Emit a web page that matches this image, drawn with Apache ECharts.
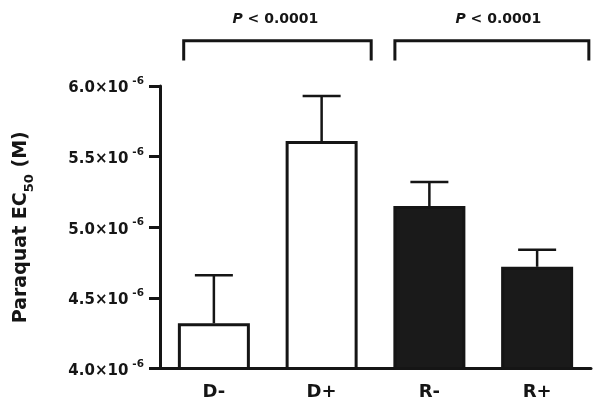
<!DOCTYPE html>
<html>
<head>
<meta charset="utf-8">
<script src="https://cdn.jsdelivr.net/npm/echarts@6/dist/echarts.min.js"></script>
<style>html,body{margin:0;padding:0;background:#fff}#c{width:600px;height:408px}</style>
</head>
<body>
<div id="c"></div>
<script>
// Values in units of 1e-6 M
const categories = ['D-', 'D+', 'R-', 'R+'];
const means = [4.32, 5.61, 5.15, 4.72];
const upperErr = [4.66, 5.93, 5.32, 4.84];
const fillColors = ['#ffffff', '#ffffff', '#1a1a1a', '#1a1a1a'];
const yTicks = { min: 4.0, max: 6.0, interval: 0.5 };
// Significance brackets (positions in category-index units)
const bracketSpans = [[-0.28, 1.46], [1.68, 3.48]];
const bracketLabelX = [0.57, 2.64];
const bracketLabels = ['P < 0.0001', 'P < 0.0001'];
const bracketTop = 6.32, bracketFoot = 6.18, bracketTextLevel = 6.47;

const FONT = 'DejaVu Sans';
const INK = '#151515';

const chart = echarts.init(document.getElementById('c'));

function fracX(api, f, v) {
  const c0 = api.coord([0, v])[0];
  const c1 = api.coord([1, v])[0];
  return c0 + f * (c1 - c0);
}

chart.setOption({
  animation: false,
  backgroundColor: '#fff',
  grid: { left: 160, right: 9, top: 86, bottom: 39.5, containLabel: false },
  xAxis: {
    type: 'category',
    data: categories,
    boundaryGap: true,
    axisLine: { lineStyle: { color: INK, width: 3 } },
    axisTick: { show: false },
    axisLabel: { color: INK, fontFamily: FONT, fontWeight: 'bold', fontSize: 18, margin: 15 }
  },
  yAxis: {
    type: 'value',
    min: yTicks.min, max: yTicks.max, interval: yTicks.interval,
    splitLine: { show: false },
    axisLine: { show: true, lineStyle: { color: INK, width: 3 } },
    axisTick: { show: true, length: 11, lineStyle: { color: INK, width: 3 } },
    axisLabel: {
      margin: 16,
      formatter: v => '{n|' + v.toFixed(1) + '×10}{s|-6}',
      rich: {
        n: { color: INK, fontFamily: FONT, fontWeight: 'bold', fontSize: 15, lineHeight: 20, verticalAlign: 'bottom' },
        s: { color: INK, fontFamily: FONT, fontWeight: 'bold', fontSize: 10.5, lineHeight: 20, verticalAlign: 'top', padding: [0, 0, 0, 4] }
      }
    },
    name: '{a|Paraquat EC}{s|50}{a| (M)}',
    nameLocation: 'middle',
    nameGap: 124,
    nameTextStyle: {
      rich: {
        a: { color: INK, fontFamily: FONT, fontWeight: 'bold', fontSize: 19, lineHeight: 24, verticalAlign: 'top' },
        s: { color: INK, fontFamily: FONT, fontWeight: 'bold', fontSize: 13, lineHeight: 24, verticalAlign: 'bottom' }
      }
    }
  },
  series: [
    {
      type: 'bar',
      barWidth: 72,
      data: means.map((m, i) => ({
        value: m,
        itemStyle: { color: fillColors[i], borderColor: INK, borderWidth: 3 }
      })),
      z: 2
    },
    {
      type: 'custom',
      z: 3,
      data: means.map((m, i) => [i, m, upperErr[i]]),
      renderItem: (params, api) => {
        const p1 = api.coord([api.value(0), api.value(1)]);
        const p2 = api.coord([api.value(0), api.value(2)]);
        const half = 19;
        const st = { stroke: INK, lineWidth: 2.5 };
        return {
          type: 'group',
          children: [
            { type: 'line', shape: { x1: p1[0], y1: p1[1], x2: p2[0], y2: p2[1] }, style: st },
            { type: 'line', shape: { x1: p2[0] - half, y1: p2[1], x2: p2[0] + half, y2: p2[1] }, style: st }
          ]
        };
      }
    },
    {
      type: 'custom',
      clip: false,
      z: 3,
      data: bracketSpans.map((b, i) => [i, bracketTop]),
      renderItem: (params, api) => {
        const i = params.dataIndex;
        const span = bracketSpans[i];
        const yTop = api.coord([0, bracketTop])[1];
        const yFoot = api.coord([0, bracketFoot])[1];
        const yText = api.coord([0, bracketTextLevel])[1];
        const xL = fracX(api, span[0], bracketTop);
        const xR = fracX(api, span[1], bracketTop);
        const xT = fracX(api, bracketLabelX[i], bracketTop);
        const st = { stroke: INK, lineWidth: 3, fill: null, lineJoin: 'miter' };
        const parts = bracketLabels[i].split(' ');
        return {
          type: 'group',
          children: [
            { type: 'polyline', shape: { points: [[xL, yFoot], [xL, yTop], [xR, yTop], [xR, yFoot]] }, style: st },
            {
              type: 'text',
              x: xT, y: yText,
              style: {
                text: '{i|' + parts[0] + '}{b| ' + parts.slice(1).join(' ') + '}',
                align: 'center', verticalAlign: 'middle',
                rich: {
                  i: { fill: INK, fontFamily: FONT, fontWeight: 'bold', fontStyle: 'italic', fontSize: 14 },
                  b: { fill: INK, fontFamily: FONT, fontWeight: 'bold', fontSize: 14 }
                }
              }
            }
          ]
        };
      }
    }
  ]
});
</script>
</body>
</html>
